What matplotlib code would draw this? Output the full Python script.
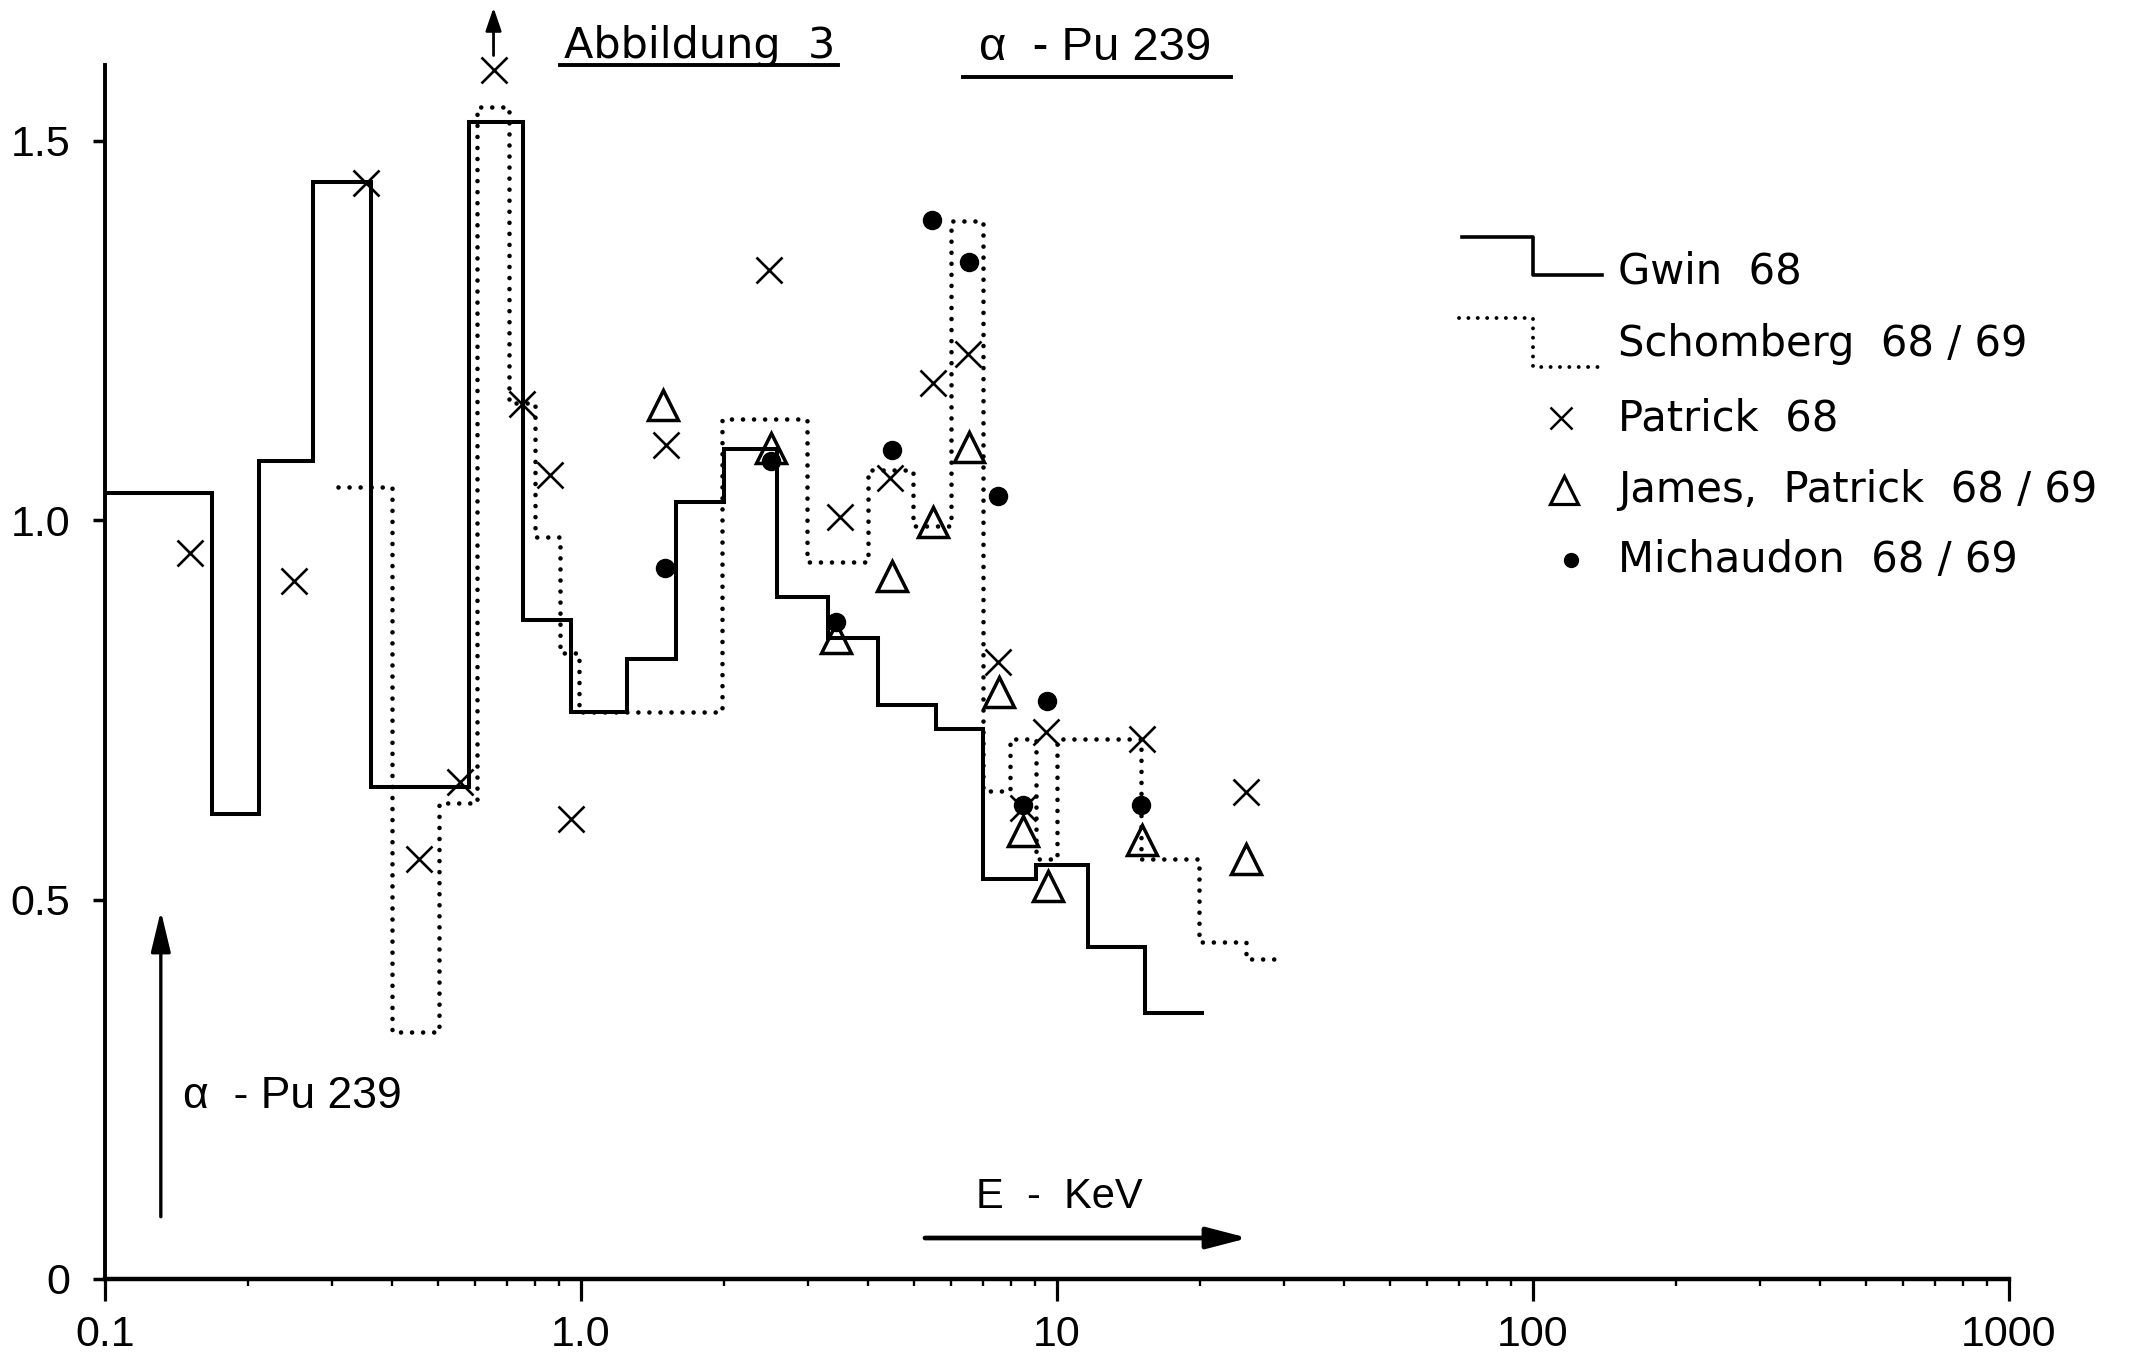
import numpy as np
import matplotlib
matplotlib.use('Agg')
import matplotlib.pyplot as plt
from matplotlib.lines import Line2D
from matplotlib.ticker import LogLocator, NullFormatter

# ------------------------------- Data -------------------------------
# Gwin 68 - histogram, bin edges in keV
gwin_edges = [0.1, 0.168, 0.211, 0.274, 0.362, 0.582, 0.754, 0.953, 1.25, 1.58, 2.0,
              2.58, 3.3, 4.2, 5.57, 7.0, 9.04, 11.6, 15.3, 20.4]
gwin_vals = [1.035, 0.613, 1.078, 1.445, 0.648, 1.524, 0.868, 0.747, 0.817, 1.024,
             1.093, 0.898, 0.845, 0.756, 0.725, 0.527, 0.546, 0.438, 0.35]

# Schomberg 68/69 - histogram
schom_edges = [0.308, 0.40, 0.504, 0.605, 0.705, 0.80, 0.904, 0.99, 1.98, 2.99, 4.0,
               4.98, 6.0, 7.0, 7.97, 9.04, 10.0, 15.0, 19.9, 24.9, 29.6]
schom_vals = [1.044, 0.326, 0.627, 1.544, 1.154, 0.978, 0.825, 0.747, 1.133, 0.945,
              1.066, 0.992, 1.394, 0.643, 0.712, 0.553, 0.712, 0.553, 0.444, 0.422]

# Patrick 68
patrick_E = [0.151, 0.249, 0.353, 0.457, 0.557, 0.655, 0.75, 0.86, 0.953, 1.51, 2.48,
             3.5, 4.46, 5.5, 6.49, 7.5, 8.47, 9.47, 15.07, 24.9]
patrick_a = [0.957, 0.92, 1.444, 0.553, 0.655, 1.593, 1.153, 1.059, 0.606, 1.099, 1.33,
             1.004, 1.055, 1.18, 1.219, 0.813, 0.62, 0.721, 0.712, 0.641]

# James, Patrick 68/69
james_E = [1.49, 2.51, 3.44, 4.5, 5.48, 6.52, 7.55, 8.5, 9.57, 15.07, 24.9]
james_a = [1.151, 1.095, 0.845, 0.926, 0.997, 1.096, 0.774, 0.59, 0.518, 0.578, 0.554]

# Michaudon 68/69
mich_E = [1.5, 2.51, 3.44, 4.51, 5.46, 6.53, 7.53, 8.47, 9.55, 15.0]
mich_a = [0.937, 1.078, 0.865, 1.092, 1.395, 1.34, 1.032, 0.625, 0.761, 0.625]

x_ticks = [0.1, 1, 10, 100, 1000]
x_ticklabels = ['0.1', '1.0', '10', '100', '1000']
y_ticks = [0, 0.5, 1.0, 1.5]
y_ticklabels = ['0', '0.5', '1.0', '1.5']

legend_labels = ['Gwin  68', 'Schomberg  68 / 69', 'Patrick  68',
                 'James,  Patrick  68 / 69', 'Michaudon  68 / 69']

# ------------------------------- Figure -------------------------------
W, H = 2132, 1356
plt.rcParams['font.family'] = ['DejaVu Sans']

def fx(px):
    return px / W

def fy(py):
    return 1 - py / H

fig = plt.figure(figsize=(W / 100, H / 100), dpi=100)
ax = fig.add_axes([fx(105), fy(1279), 1904 / W, 1214.4 / H])
ax.set_xscale('log')
ax.set_xlim(0.1, 1000)
ax.set_ylim(0, 1.6)

# histograms
ax.stairs(gwin_vals, gwin_edges, baseline=None, color='k', lw=2.9, zorder=2)
ax.stairs(schom_vals, schom_edges, baseline=None, color='k', lw=3.3,
          linestyle=(0, (0.01, 2.4)), capstyle='round', zorder=2)

# point data
ax.plot(patrick_E, patrick_a, ls='none', marker='x', ms=19, mew=1.9, color='k',
        clip_on=False, zorder=3)
ax.plot(james_E, james_a, ls='none', marker='^', ms=22, mfc='none', mec='k', mew=2.5,
        clip_on=False, zorder=3)
ax.plot(mich_E, mich_a, ls='none', marker='o', ms=13, color='k', zorder=4)

# axes styling
for s in ['top', 'right']:
    ax.spines[s].set_visible(False)
ax.spines['left'].set_linewidth(2.8)
ax.spines['bottom'].set_linewidth(3.2)

ax.set_xticks(x_ticks)
ax.set_xticklabels(x_ticklabels)
ax.xaxis.set_minor_locator(LogLocator(base=10, subs=np.arange(2, 10)))
ax.xaxis.set_minor_formatter(NullFormatter())
ax.set_yticks(y_ticks)
ax.set_yticklabels(y_ticklabels)
ax.tick_params(axis='x', which='major', length=16, width=2.3, pad=10, labelsize=31)
ax.tick_params(axis='x', which='minor', length=5, width=1.7)
ax.tick_params(axis='y', length=9, width=2.5, pad=16, labelsize=31)
for lbl in ax.get_xticklabels() + ax.get_yticklabels():
    lbl.set_fontfamily('Liberation Sans')

# arrows and annotations
ax.annotate('', xy=(0.655, 1.675), xytext=(0.655, 1.612), annotation_clip=False,
            arrowprops=dict(arrowstyle='-|>,head_length=0.35,head_width=0.12', lw=2.0,
                            color='k', mutation_scale=40, shrinkA=0, shrinkB=0))
ax.annotate('', xy=(0.131, 0.485), xytext=(0.131, 0.082),
            arrowprops=dict(arrowstyle='-|>,head_length=0.5,head_width=0.12', lw=2.4,
                            color='k', mutation_scale=50, shrinkA=0, shrinkB=0))
ax.annotate('', xy=(25.2, 0.054), xytext=(5.28, 0.054),
            arrowprops=dict(arrowstyle='-|>,head_length=0.5,head_width=0.13', lw=3.4,
                            color='k', mutation_scale=50, shrinkA=0, shrinkB=0))
ax.text(0.146, 0.24, 'α  - Pu 239', va='center', ha='left', fontsize=32,
        family='Liberation Sans')
ax.text(6.76, 0.108, 'E  -  KeV', va='center', ha='left', fontsize=30,
        family='Liberation Sans')

# header
fig.text(fx(564), fy(58), 'Abbildung  3', va='baseline', ha='left', fontsize=31)
fig.add_artist(Line2D([fx(560), fx(838)], [fy(65), fy(65)], color='k', lw=2.8))
fig.text(fx(979), fy(60), 'α  - Pu 239', va='baseline', ha='left', fontsize=34,
         family='Liberation Sans')
fig.add_artist(Line2D([fx(963), fx(1231)], [fy(77), fy(77)], color='k', lw=2.8))

# hand drawn style legend
fig.add_artist(Line2D([fx(1462), fx(1533), fx(1533), fx(1602)],
                      [fy(237), fy(237), fy(275), fy(275)], color='k', lw=2.6))
fig.add_artist(Line2D([fx(1459), fx(1533), fx(1533), fx(1605)],
                      [fy(318), fy(318), fy(367), fy(367)], color='k', lw=2.8,
                      ls=(0, (0.01, 2.4)), dash_capstyle='round'))
fig.add_artist(Line2D([fx(1561)], [fy(418)], marker='x', ms=16, mew=1.8, color='k'))
fig.add_artist(Line2D([fx(1564)], [fy(490)], marker='^', ms=20, mfc='none', mec='k',
                      mew=2.3))
fig.add_artist(Line2D([fx(1571)], [fy(560)], marker='o', ms=10, color='k'))
for lbl, yc in zip(legend_labels, [272, 344, 418, 490, 560]):
    fig.text(fx(1618), fy(yc), lbl, va='center', ha='left', fontsize=30)

fig.savefig('out.png', dpi=100)
